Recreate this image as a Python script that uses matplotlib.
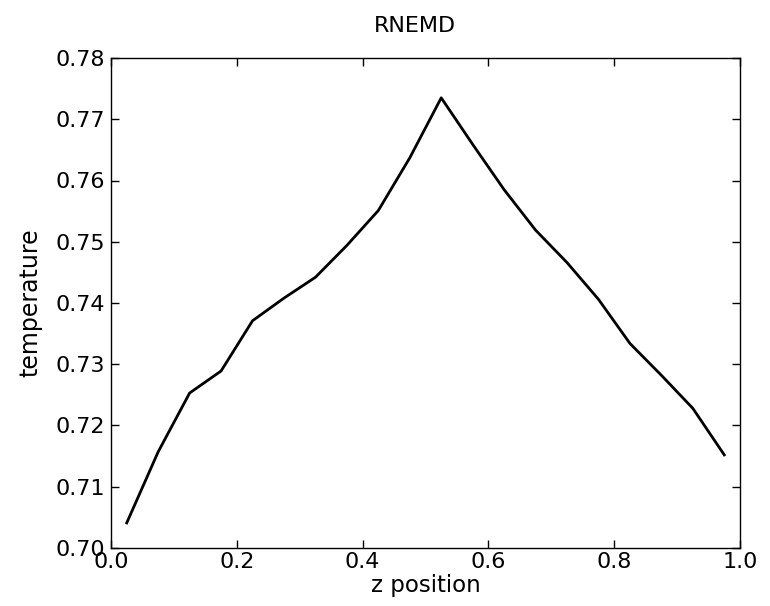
import numpy as np
import matplotlib
matplotlib.use("Agg")
import matplotlib.pyplot as plt

# bin centres along z and the measured temperature profile
z = [0.025, 0.075, 0.125, 0.175, 0.225, 0.275, 0.325, 0.375, 0.425, 0.475,
     0.525, 0.575, 0.625, 0.675, 0.725, 0.775, 0.825, 0.875, 0.925, 0.975]
temperature = [0.7041, 0.7157, 0.7253, 0.7289, 0.7371, 0.7408, 0.7442, 0.7494, 0.7551, 0.7637,
               0.7735, 0.7659, 0.7585, 0.7519, 0.7466, 0.7406, 0.7334, 0.7282, 0.7228, 0.7152]

plt.rcParams['font.family'] = ['DejaVu Sans']

fig = plt.figure(figsize=(7.7, 6.06), dpi=100)
ax = fig.add_axes([111/770, 1-548/606, 629/770, 490/606])

ax.plot(z, temperature, color='black', lw=2)

ax.set_xlim(0, 1.0)
ax.set_ylim(0.70, 0.78)
ax.set_xticks(np.arange(0, 1.01, 0.2))
ax.set_yticks(np.arange(0.70, 0.7801, 0.01))
ax.set_xticklabels(['%.1f' % v for v in np.arange(0, 1.01, 0.2)])
ax.set_yticklabels(['%.2f' % v for v in np.arange(0.70, 0.7801, 0.01)])
ax.tick_params(direction='in', top=True, right=True, length=6, width=1, labelsize=16)
ax.tick_params(axis='x', pad=3)
ax.tick_params(axis='y', pad=4)
for s in ax.spines.values():
    s.set_linewidth(1)

ax.set_xlabel('z position', fontsize=16.5, labelpad=1)
ax.set_ylabel('temperature', fontsize=17, labelpad=10)
ax.set_title('RNEMD', fontsize=16, pad=19, x=0.484)

fig.savefig('out.png', dpi=100)
